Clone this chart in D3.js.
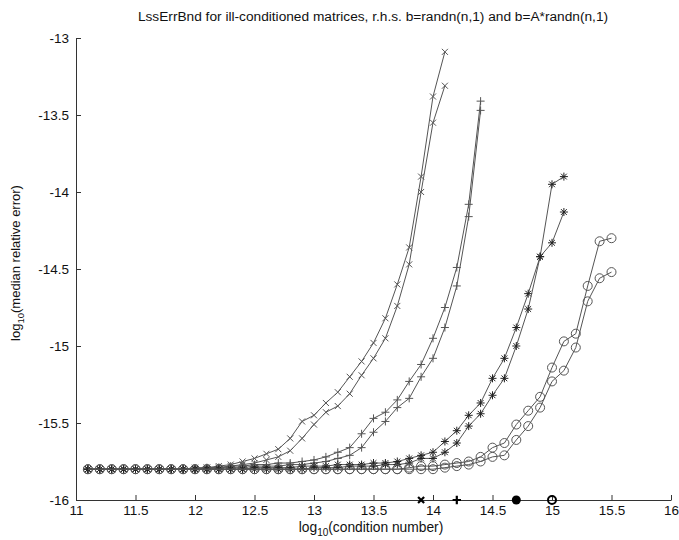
<!DOCTYPE html>
<html>
<head>
<meta charset="utf-8">
<script src="https://cdn.jsdelivr.net/npm/d3@7"></script>
<style>
  body { margin: 0; background: #fff; }
  svg { display: block; }
  text { font-family: "Liberation Sans", Arial, sans-serif; fill: #111; }
</style>
</head>
<body>
<svg width="679" height="540"></svg>
<script>
// condition numbers (log10) at which the error was measured
var cond = [11.1, 11.2, 11.3, 11.4, 11.5, 11.6, 11.7, 11.8, 11.9, 12.0,
  12.1, 12.2, 12.3, 12.4, 12.5, 12.6, 12.7, 12.8, 12.9, 13.0,
  13.1, 13.2, 13.3, 13.4, 13.5, 13.6, 13.7, 13.8, 13.9, 14.0,
  14.1, 14.2, 14.3, 14.4, 14.5, 14.6, 14.7, 14.8, 14.9, 15.0,
  15.1, 15.2, 15.3, 15.4, 15.5];

// log10(median relative error), one list per curve, starting at cond[0]
var crossA = [-15.80, -15.80, -15.80, -15.80, -15.80, -15.80, -15.80, -15.80, -15.80,
  -15.79, -15.79, -15.78, -15.77, -15.75, -15.73, -15.70, -15.67, -15.60, -15.49, -15.45,
  -15.37, -15.30, -15.20, -15.10, -14.98, -14.82, -14.60, -14.36, -13.90, -13.38, -13.09];
var crossB = [-15.80, -15.80, -15.80, -15.80, -15.80, -15.80, -15.80, -15.80, -15.80,
  -15.80, -15.79, -15.79, -15.78, -15.77, -15.76, -15.74, -15.72, -15.68, -15.60, -15.51,
  -15.43, -15.39, -15.31, -15.19, -15.08, -14.95, -14.74, -14.47, -14.00, -13.55, -13.31];
var plusA = [-15.80, -15.80, -15.80, -15.80, -15.80, -15.80, -15.80, -15.80, -15.80,
  -15.80, -15.79, -15.79, -15.78, -15.78, -15.77, -15.77, -15.76, -15.76, -15.75, -15.74,
  -15.72, -15.69, -15.66, -15.57, -15.47, -15.43, -15.35, -15.23, -15.12, -14.95,
  -14.75, -14.49, -14.08, -13.41];
var plusB = [-15.80, -15.80, -15.80, -15.80, -15.80, -15.80, -15.80, -15.80, -15.80,
  -15.80, -15.80, -15.79, -15.79, -15.79, -15.78, -15.78, -15.78, -15.77, -15.77, -15.76,
  -15.75, -15.73, -15.71, -15.66, -15.56, -15.49, -15.40, -15.34, -15.20, -15.08,
  -14.88, -14.61, -14.16, -13.47];
var starA = [-15.80, -15.80, -15.80, -15.80, -15.80, -15.80, -15.80, -15.80, -15.80,
  -15.80, -15.80, -15.80, -15.80, -15.80, -15.79, -15.79, -15.79, -15.79, -15.78, -15.78,
  -15.78, -15.77, -15.77, -15.77, -15.76, -15.76, -15.75, -15.73, -15.71, -15.69,
  -15.62, -15.55, -15.45, -15.37, -15.21, -15.08, -14.88, -14.66, -14.42, -13.95, -13.90];
var starB = [-15.80, -15.80, -15.80, -15.80, -15.80, -15.80, -15.80, -15.80, -15.80,
  -15.80, -15.80, -15.80, -15.80, -15.80, -15.80, -15.80, -15.80, -15.80, -15.80, -15.79,
  -15.79, -15.79, -15.78, -15.78, -15.78, -15.77, -15.77, -15.76, -15.73, -15.73,
  -15.69, -15.63, -15.52, -15.44, -15.32, -15.21, -15.00, -14.76, -14.42, -14.33, -14.13];
var circA = [-15.80, -15.80, -15.80, -15.80, -15.80, -15.80, -15.80, -15.80, -15.80,
  -15.80, -15.80, -15.80, -15.80, -15.80, -15.80, -15.80, -15.80, -15.80, -15.80, -15.80,
  -15.80, -15.80, -15.80, -15.80, -15.80, -15.80, -15.80, -15.79, -15.78, -15.78,
  -15.77, -15.76, -15.75, -15.72, -15.66, -15.63, -15.51, -15.42, -15.33, -15.14,
  -14.97, -14.92, -14.61, -14.32, -14.30];
var circB = [-15.80, -15.80, -15.80, -15.80, -15.80, -15.80, -15.80, -15.80, -15.80,
  -15.80, -15.80, -15.80, -15.80, -15.80, -15.80, -15.80, -15.80, -15.80, -15.80, -15.80,
  -15.80, -15.80, -15.80, -15.80, -15.80, -15.80, -15.80, -15.80, -15.80, -15.80,
  -15.79, -15.78, -15.77, -15.75, -15.72, -15.71, -15.61, -15.52, -15.40, -15.23,
  -15.16, -15.01, -14.71, -14.56, -14.52];

// thresholds marked on the x axis
var markCond = [13.9, 14.2, 14.7, 15.0];
var markKind = ["x", "+", "dot", "o"];

var xTicks = [11, 11.5, 12, 12.5, 13, 13.5, 14, 14.5, 15, 15.5, 16];
var xTickLabels = ["11", "11.5", "12", "12.5", "13", "13.5", "14", "14.5", "15", "15.5", "16"];
var yTicks = [-16, -15.5, -15, -14.5, -14, -13.5, -13];
var yTickLabels = ["-16", "-15.5", "-15", "-14.5", "-14", "-13.5", "-13"];

var series = [
  { vals: crossA, kind: "x" }, { vals: crossB, kind: "x" },
  { vals: plusA, kind: "+" }, { vals: plusB, kind: "+" },
  { vals: starA, kind: "*" }, { vals: starB, kind: "*" },
  { vals: circA, kind: "o" }, { vals: circB, kind: "o" }
];

var svg = d3.select("svg");
var padLeft = 76, padRight = 671, padTop = 38, padBottom = 500;

var x = d3.scaleLinear().domain([11, 16]).range([padLeft, padRight]);
var y = d3.scaleLinear().domain([-16, -13]).range([padBottom, padTop]);

// marker shapes, MATLAB style
function markerPath(kind, s) {
  var d = s * 0.72;
  if (kind == "x") return "M" + -d + "," + -d + "L" + d + "," + d + "M" + -d + "," + d + "L" + d + "," + -d;
  if (kind == "+") return "M" + -s + ",0L" + s + ",0M0," + -s + "L0," + s;
  if (kind == "*") return "M" + -s + ",0L" + s + ",0M0," + -s + "L0," + s +
    "M" + -d + "," + -d + "L" + d + "," + d + "M" + -d + "," + d + "L" + d + "," + -d;
  return "";
}

var line = d3.line()
  .x(function (d) { return x(d[0]); })
  .y(function (d) { return y(d[1]); });

var plot = svg.append("g").attr("class", "curves");

series.forEach(function (s) {
  var pts = s.vals.map(function (v, i) { return [cond[i], v]; });
  var g = plot.append("g");
  g.append("path")
    .attr("d", line(pts))
    .attr("fill", "none")
    .attr("stroke", "#555")
    .attr("stroke-width", 1);
  var m = g.selectAll(".m").data(pts).enter();
  if (s.kind == "o") {
    m.append("circle")
      .attr("cx", function (d) { return x(d[0]); })
      .attr("cy", function (d) { return y(d[1]); })
      .attr("r", 4.5)
      .attr("fill", "none")
      .attr("stroke", "#555")
      .attr("stroke-width", 1);
  } else {
    m.append("path")
      .attr("transform", function (d) { return "translate(" + x(d[0]) + "," + y(d[1]) + ")"; })
      .attr("d", markerPath(s.kind, s.kind == "x" ? 4.2 : 4))
      .attr("fill", "none")
      .attr("stroke", s.kind == "*" ? "#222" : "#555")
      .attr("stroke-width", 1);
  }
});

////////// AXES //////////
var xAxis = svg.append("g")
  .attr("transform", "translate(0," + padBottom + ")")
  .call(d3.axisBottom(x).tickValues(xTicks)
    .tickFormat(function (d, i) { return xTickLabels[i]; })
    .tickSizeInner(-5).tickSizeOuter(0).tickPadding(5));

var yAxis = svg.append("g")
  .attr("transform", "translate(" + padLeft + ",0)")
  .call(d3.axisLeft(y).tickValues(yTicks)
    .tickFormat(function (d, i) { return yTickLabels[i]; })
    .tickSizeInner(-5).tickSizeOuter(0).tickPadding(7));

[xAxis, yAxis].forEach(function (a) {
  a.selectAll("path, line").attr("stroke", "#333");
  a.selectAll("text")
    .style("font-family", "'Liberation Sans', Arial, sans-serif")
    .style("font-size", "13.5px")
    .attr("fill", "#111");
});

// threshold markers on the x axis
markCond.forEach(function (c, i) {
  var k = markKind[i], cx = x(c);
  if (k == "dot") {
    svg.append("circle").attr("cx", cx).attr("cy", padBottom).attr("r", 4.5).attr("fill", "#000");
  } else if (k == "o") {
    svg.append("circle").attr("cx", cx).attr("cy", padBottom).attr("r", 4)
      .attr("fill", "none").attr("stroke", "#000").attr("stroke-width", 2);
  } else {
    svg.append("path").attr("transform", "translate(" + cx + "," + padBottom + ")")
      .attr("d", markerPath(k, 4.2)).attr("stroke", "#000").attr("stroke-width", 2.2);
  }
});

////////// LABELS //////////
svg.append("text")
  .attr("x", 373).attr("y", 21)
  .attr("text-anchor", "middle")
  .style("font-size", "13.7px")
  .text("LssErrBnd for ill-conditioned matrices, r.h.s. b=randn(n,1) and b=A*randn(n,1)");

var xl = svg.append("text")
  .attr("x", 371).attr("y", 532)
  .attr("text-anchor", "middle")
  .style("font-size", "13.8px");
xl.append("tspan").text("log");
xl.append("tspan").attr("dy", 4).style("font-size", "10px").text("10");
xl.append("tspan").attr("dy", -4).text("(condition number)");

var yl = svg.append("text")
  .attr("transform", "translate(20,263) rotate(-90)")
  .attr("text-anchor", "middle")
  .style("font-size", "13px");
yl.append("tspan").text("log");
yl.append("tspan").attr("dy", 4).style("font-size", "9.5px").text("10");
yl.append("tspan").attr("dy", -4).text("(median relative error)");
</script>
</body>
</html>
